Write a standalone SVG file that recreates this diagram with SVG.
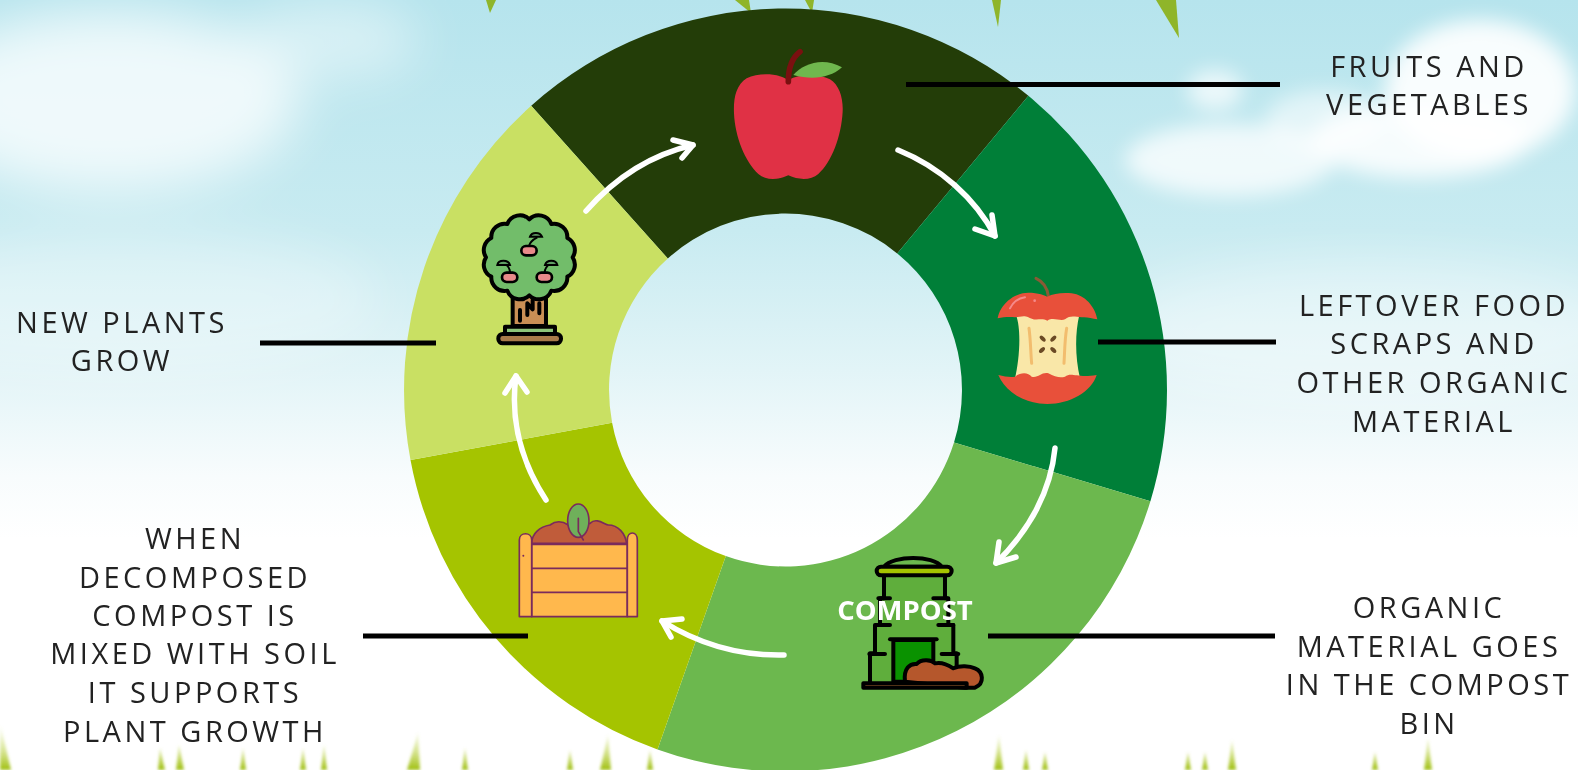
<svg xmlns="http://www.w3.org/2000/svg" width="1578" height="770" viewBox="0 0 1578 770">
<style>
.lbl{font-family:"Open Sans","Liberation Sans",sans-serif;font-size:29px;letter-spacing:3.5px;fill:#222;text-anchor:middle}
.lead{stroke:#000;stroke-width:5;fill:none}
.arr{stroke:#fff;stroke-width:5.5;fill:none;stroke-linecap:round;stroke-linejoin:round}
.k{stroke:#000;stroke-width:12;stroke-linejoin:round;stroke-linecap:round}
.p{stroke:#7a2b5c;stroke-width:5;stroke-linejoin:round;stroke-linecap:round}
</style>
<defs>
<linearGradient id="sky" x1="0" y1="0" x2="0" y2="1">
<stop offset="0" stop-color="#b6e4ed"/><stop offset=".3" stop-color="#c8ebf1"/><stop offset=".48" stop-color="#e2f4f7"/><stop offset=".62" stop-color="#f8fcfd"/><stop offset=".7" stop-color="#fff"/><stop offset="1" stop-color="#fff"/>
</linearGradient>
<linearGradient id="blade" gradientUnits="userSpaceOnUse" x1="0" y1="725" x2="0" y2="770">
<stop offset="0" stop-color="#c9dc66" stop-opacity="0"/><stop offset=".6" stop-color="#b9d040" stop-opacity=".6"/><stop offset="1" stop-color="#9fbf10"/>
</linearGradient>
<filter id="b30" x="-60%" y="-60%" width="220%" height="220%"><feGaussianBlur stdDeviation="26"/></filter>
<filter id="b12" x="-60%" y="-60%" width="220%" height="220%"><feGaussianBlur stdDeviation="10"/></filter>
<filter id="b1" x="-150%" y="-20%" width="400%" height="140%"><feGaussianBlur stdDeviation="1.6"/></filter>
</defs>

<g id="background">
<rect width="1578" height="770" fill="url(#sky)"/>
<g fill="#fff" filter="url(#b30)">
<ellipse cx="110" cy="100" rx="190" ry="90" opacity=".75"/>
<ellipse cx="330" cy="40" rx="90" ry="40" opacity=".45"/>
<ellipse cx="120" cy="300" rx="260" ry="70" opacity=".3"/>
<ellipse cx="1370" cy="330" rx="260" ry="70" opacity=".35"/>
</g>
<g fill="#fff" filter="url(#b12)">
<ellipse cx="1480" cy="90" rx="95" ry="70" opacity=".9"/>
<ellipse cx="1420" cy="140" rx="110" ry="38" opacity=".85"/>
<ellipse cx="1230" cy="160" rx="105" ry="36" opacity=".75"/>
<ellipse cx="1215" cy="90" rx="28" ry="20" opacity=".7"/>
<ellipse cx="1325" cy="120" rx="60" ry="30" opacity=".55"/>
</g>
<g fill="#8fb52a">
<path d="M486 0h10l-6 13z"/><path d="M735 0h14l2 13z"/><path d="M805 0h9l-2 13z"/><path d="M992 0h9l-3 27z"/><path d="M1156 0h20l3 38z"/>
</g>
<g fill="url(#blade)" filter="url(#b1)">
<path d="M0 722L11 770H0z"/><path d="M160 748L165 770H158z"/><path d="M179 745L184 770H176z"/><path d="M243 748L246 770H240z"/><path d="M303 748L306 770H300z"/><path d="M324 745L327 770H321z"/>
<path d="M418 733L420 770H407z"/><path d="M465 748L468 770H462z"/><path d="M570 750L573 770H567z"/><path d="M608 735L611 770H600z"/><path d="M650 750L653 770H647z"/>
<path d="M999 735L1003 770H994z"/><path d="M1026 750L1029 770H1023z"/><path d="M1045 752L1048 770H1042z"/><path d="M1188 752L1191 770H1185z"/><path d="M1232 740L1236 770H1228z"/><path d="M1205 752L1208 770H1202z"/><path d="M1428 738L1432 770H1424z"/><path d="M1375 752L1378 770H1372z"/>
</g>
</g>

<g id="ring">
<path id="seg-fruits" fill="#233d08" d="M531.2 105.7A381.5 381.5 0 0 1 1028.4 95.8L897.2 253.4A176.5 176.5 0 0 0 667.8 258.5Z"/>
<path id="seg-scraps" fill="#007f38" d="M1028.4 95.8A381.5 381.5 0 0 1 1150.4 501.3L954 442.5A176.5 176.5 0 0 0 897.2 253.4Z"/>
<path id="seg-compost" fill="#6cb84e" d="M1150.4 501.3A381.5 381.5 0 0 1 657.5 749.4L725.8 556.1A176.5 176.5 0 0 0 954 442.5Z"/>
<path id="seg-mixed" fill="#a5c400" d="M657.5 749.4A381.5 381.5 0 0 1 410.5 460L612.1 422.7A176.5 176.5 0 0 0 725.8 556.1Z"/>
<path id="seg-plants" fill="#c9e063" d="M410.5 460A381.5 381.5 0 0 1 531.2 105.7L667.8 258.5A176.5 176.5 0 0 0 612.1 422.7Z"/>
</g>

<g id="connectors">
<path class="lead" d="M906 84.5H1280"/>
<path class="lead" d="M1098 342H1276"/>
<path class="lead" d="M988 636H1275"/>
<path class="lead" d="M363 636H528"/>
<path class="lead" d="M260 343H436"/>
<path class="arr" d="M586 211C615 178 650 155 693 145"/><path class="arr" d="M673 140L693 145L682 158"/>
<path class="arr" d="M898 150C940 167 975 198 995 236"/><path class="arr" d="M992 215L995 236L975 229"/>
<path class="arr" d="M1055 448C1051 490 1030 530 996 563"/><path class="arr" d="M999 542L996 563L1016 557"/>
<path class="arr" d="M784 655C740 656 700 645 662 621"/><path class="arr" d="M682 619L662 621L671 637"/>
<path class="arr" d="M546 500C520 460 510 420 516 376"/><path class="arr" d="M505 393L516 376L527 392"/>
</g>

<g id="node-apple" transform="translate(680 30) scale(.3333)">
<path fill="#e03145" d="M325 150C290 128 235 128 200 145C168 165 160 205 162 250C165 320 195 395 235 432C258 452 295 450 325 436C355 450 392 452 415 432C455 395 484 320 488 245C490 205 478 165 450 148C415 130 360 130 325 150Z"/>
<path fill="none" stroke="#7a1010" stroke-width="17" stroke-linecap="round" d="M325 155C325 110 340 80 360 65"/>
<path fill="#6fb74e" d="M340 135C370 100 430 80 486 112C450 145 395 150 340 135Z"/>
</g>

<g id="node-core" transform="translate(960 260) scale(.3333)">
<path fill="none" stroke="#8a5a35" stroke-width="9" stroke-linecap="round" d="M228 55C250 65 262 85 265 108"/>
<path fill="#f9e7a8" d="M168 165C185 210 178 300 165 355H360C345 290 345 220 358 165Z"/>
<path fill="#e8503a" d="M113 175C120 135 160 98 205 98C230 98 250 105 262 110C280 100 310 97 335 100C375 105 405 140 412 178C395 175 380 170 365 172C345 170 330 165 315 178C300 185 280 170 262 182C245 172 225 185 205 172C190 165 180 172 165 172C145 170 130 172 113 175Z"/>
<path fill="#e8503a" d="M115 345C135 350 150 352 165 350C185 335 205 338 215 350C235 355 245 335 265 340C285 350 300 355 315 350C335 335 350 355 410 345C395 395 330 432 262 432C195 432 135 395 115 345Z"/>
<path fill="none" stroke="#f58a8a" stroke-width="6" stroke-linecap="round" d="M150 145C160 125 175 115 195 112"/>
<circle cx="224" cy="122" r="4" fill="#f58a8a"/>
<path fill="none" stroke="#f2bd6e" stroke-width="9" stroke-linecap="round" d="M207 205C212 240 212 280 215 310M320 205C314 240 314 280 312 310"/>
<g fill="#6b4a25">
<ellipse cx="248" cy="236" rx="11" ry="6" transform="rotate(45 248 236)"/>
<ellipse cx="280" cy="236" rx="11" ry="6" transform="rotate(-45 280 236)"/>
<ellipse cx="246" cy="270" rx="11" ry="6" transform="rotate(-45 246 270)"/>
<ellipse cx="280" cy="270" rx="11" ry="6" transform="rotate(45 280 270)"/>
</g>
</g>

<g id="node-compost" transform="translate(810 540) scale(.3333)">
<path fill="#5fae3c" class="k" d="M222 90H405V175H415V255H430V340H440V432H180V340H195V255H210V175H222Z"/>
<path fill="#6cb84e" class="k" d="M222 80C250 45 370 45 395 80Z"/>
<rect x="200" y="80" width="225" height="26" rx="13" fill="#a5c400" class="k"/>
<path fill="none" class="k" d="M205 175H240M370 175H410M205 255H240M385 255H430M178 342H225M395 342H445"/>
<rect x="250" y="300" width="120" height="125" fill="#0a9200" class="k"/>
<path class="k" d="M240 298H380"/>
<path fill="#b5572c" class="k" d="M285 425C280 385 300 370 320 372C335 355 365 360 375 370C395 365 415 375 430 385C450 375 480 378 495 385C520 395 525 430 495 443H465Z"/>
<rect x="160" y="430" width="310" height="13" fill="#a0622e" class="k"/>
</g>

<g id="node-crate" transform="translate(490 490) scale(.3333)">
<path fill="#c05c3a" class="p" d="M125 160C125 130 150 110 180 105C200 90 220 95 235 105L300 100C320 80 345 105 355 105C385 105 405 130 410 160Z"/>
<ellipse cx="265" cy="92" rx="32" ry="50" fill="#6fb05a" class="p"/>
<path fill="none" class="p" d="M265 85V125L280 150"/>
<path fill="#ffb84d" class="p" d="M125 163H412V235H125ZM125 235H412V307H125ZM125 307H412V380H125Z"/>
<path fill="#ffb84d" class="p" d="M88 380V150C88 125 125 125 125 150V380Z"/>
<path fill="#ffb84d" class="p" d="M412 380V150C412 122 442 122 442 150V380Z"/>
<circle cx="100" cy="197" r="3" fill="#7a2b5c"/>
</g>

<g id="node-tree" transform="translate(450 200) scale(.3333)">
<path fill="#c98f55" class="k" d="M188 285H288V378H188Z"/>
<path fill="none" class="k" d="M210 362V330M232 345V310L248 328V300M268 340V310"/>
<path fill="#8cc47a" class="k" d="M165 402V380H315V402Z"/>
<rect x="145" y="402" width="188" height="28" rx="13" fill="#a87a4a" class="k"/>
<path fill="#72bd6a" class="k" d="M238 58A40 40 0 0 1 304 72A40 40 0 0 1 352 114A40 40 0 0 1 368 172A40 40 0 0 1 352 230A40 40 0 0 1 304 272A40 40 0 0 1 238 286A40 40 0 0 1 172 272A40 40 0 0 1 124 230A40 40 0 0 1 108 172A40 40 0 0 1 124 114A40 40 0 0 1 172 72A40 40 0 0 1 238 58Z"/>
<g fill="#e88a8a" stroke="#000" stroke-width="8">
<rect x="214" y="138" width="46" height="28" rx="14"/>
<rect x="156" y="218" width="46" height="28" rx="14"/>
<rect x="260" y="218" width="46" height="28" rx="14"/>
</g>
<g fill="none" stroke="#000" stroke-width="6">
<path d="M237 138C240 125 250 118 262 112"/>
<path d="M180 218C180 205 175 198 165 192"/>
<path d="M284 218C284 205 290 198 300 192"/>
</g>
<g fill="#5f9e63" stroke="#000" stroke-width="6">
<path d="M240 110C245 95 270 95 276 110Z"/>
<path d="M142 195C145 178 175 178 180 195Z"/>
<path d="M285 195C290 178 318 178 322 195Z"/>
</g>
</g>

<g id="labels">
<g id="label-fruits"><text class="lbl" x="1429" y="77">FRUITS AND</text><text class="lbl" x="1429" y="115">VEGETABLES</text></g>
<g id="label-scraps"><text class="lbl" x="1434" y="316">LEFTOVER FOOD</text><text class="lbl" x="1434" y="354">SCRAPS AND</text><text class="lbl" x="1434" y="393">OTHER ORGANIC</text><text class="lbl" x="1434" y="432">MATERIAL</text></g>
<g id="label-bin"><text class="lbl" x="1429" y="618">ORGANIC</text><text class="lbl" x="1429" y="657">MATERIAL GOES</text><text class="lbl" x="1429" y="695">IN THE COMPOST</text><text class="lbl" x="1429" y="734">BIN</text></g>
<g id="label-mixed"><text class="lbl" x="195" y="549">WHEN</text><text class="lbl" x="195" y="588">DECOMPOSED</text><text class="lbl" x="195" y="626">COMPOST IS</text><text class="lbl" x="195" y="664">MIXED WITH SOIL</text><text class="lbl" x="195" y="703">IT SUPPORTS</text><text class="lbl" x="195" y="742">PLANT GROWTH</text></g>
<g id="label-plants"><text class="lbl" x="122" y="333">NEW PLANTS</text><text class="lbl" x="122" y="371">GROW</text></g>
<text x="905" y="620" font-family="'Open Sans','Liberation Sans',sans-serif" font-size="27.5" font-weight="700" fill="#fff" text-anchor="middle">COMPOST</text>
</g>
</svg>
